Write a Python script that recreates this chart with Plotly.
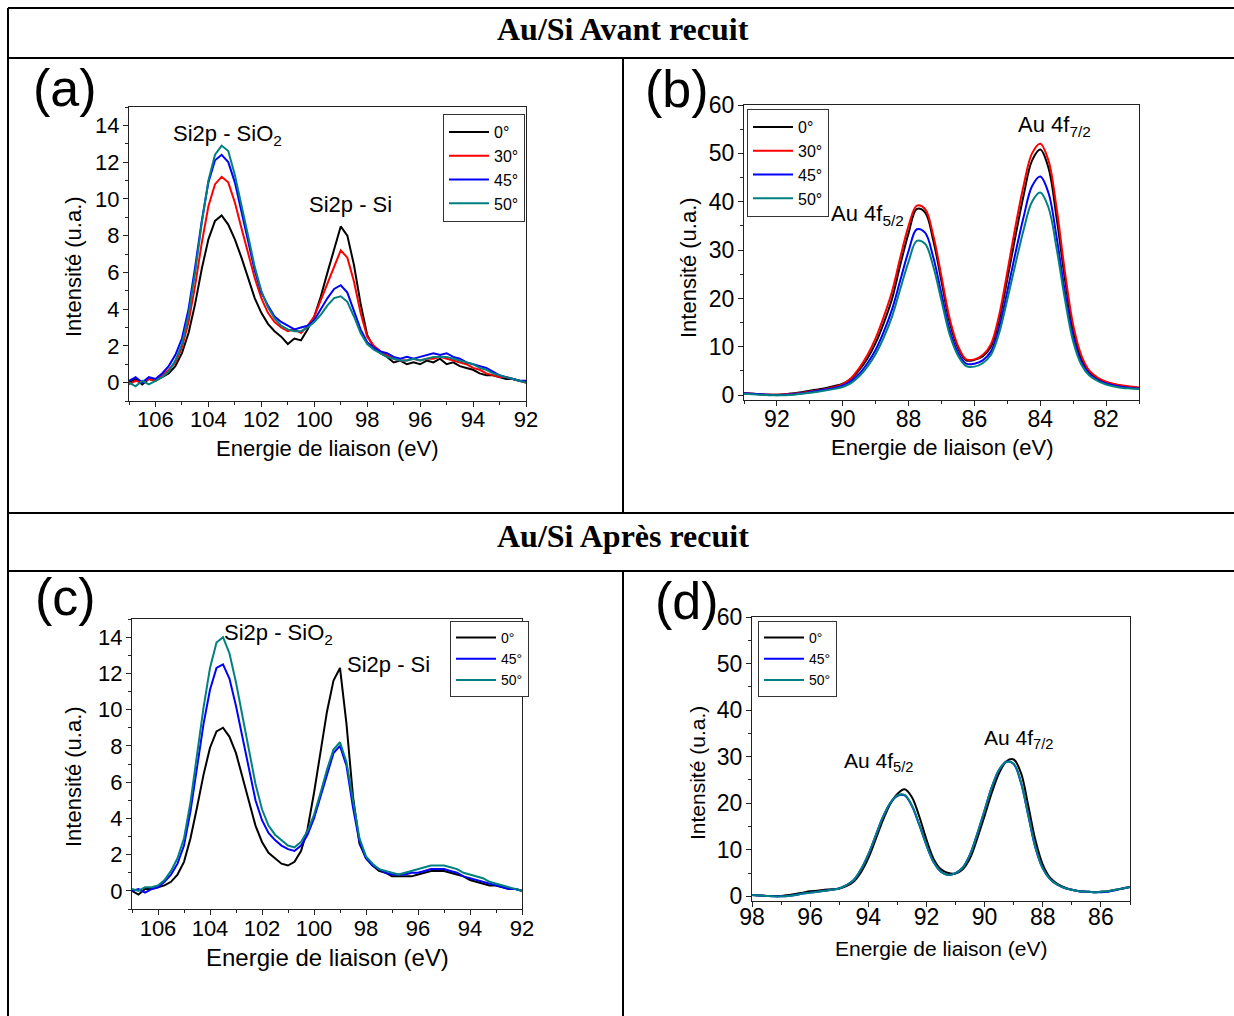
import plotly.graph_objects as go

W, H = 1234, 1016

def fx(p):
    return p / W

def fy(p):
    return 1 - p / H

# ---------------- DATA ----------------
COLORS = {"0°": "#000000", "30°": "#ff0000", "45°": "#0000ff", "50°": "#008080"}

# Si2p binding energies (eV)
E_SI = [107.0, 106.75, 106.5, 106.25, 106.0, 105.75, 105.5, 105.25, 105.0, 104.75,
        104.5, 104.25, 104.0, 103.75, 103.5, 103.25, 103.0, 102.75, 102.5, 102.25,
        102.0, 101.75, 101.5, 101.25, 101.0, 100.75, 100.5, 100.25, 100.0, 99.75,
        99.5, 99.25, 99.0, 98.75, 98.5, 98.25, 98.0, 97.75, 97.5, 97.25,
        97.0, 96.75, 96.5, 96.25, 96.0, 95.75, 95.5, 95.25, 95.0, 94.75,
        94.5, 94.25, 94.0, 93.75, 93.5, 93.25, 93.0, 92.75, 92.5, 92.25, 92.0]

# (a) Au/Si avant recuit - Si2p
A_0 = [0.0, 0.2, -0.1, 0.2, 0.1, 0.3, 0.5, 0.9, 1.6, 2.7,
       4.3, 6.2, 7.8, 8.8, 9.1, 8.6, 7.8, 6.8, 5.7, 4.6,
       3.8, 3.2, 2.8, 2.5, 2.1, 2.4, 2.3, 2.9, 3.6, 4.7,
       6.0, 7.3, 8.5, 8.0, 6.4, 4.3, 2.6, 1.9, 1.6, 1.4,
       1.1, 1.2, 1.0, 1.1, 1.0, 1.2, 1.1, 1.3, 1.0, 1.1,
       0.9, 0.8, 0.7, 0.5, 0.4, 0.4, 0.3, 0.2, 0.2, 0.1, 0.0]
A_30 = [-0.1, 0.1, 0.0, 0.2, 0.1, 0.4, 0.7, 1.1, 1.9, 3.3,
        5.3, 7.6, 9.6, 10.8, 11.2, 10.9, 9.8, 8.4, 7.0, 5.7,
        4.6, 3.8, 3.3, 3.0, 2.8, 2.9, 2.7, 3.1, 3.6, 4.5,
        5.5, 6.4, 7.2, 6.8, 5.5, 3.8, 2.5, 2.0, 1.7, 1.5,
        1.3, 1.2, 1.2, 1.3, 1.2, 1.3, 1.3, 1.4, 1.3, 1.2,
        1.1, 1.0, 0.8, 0.7, 0.5, 0.4, 0.3, 0.3, 0.2, 0.1, 0.0]
A_45 = [0.1, 0.3, 0.0, 0.3, 0.2, 0.5, 0.9, 1.5, 2.4, 4.0,
        6.3, 8.8, 10.9, 12.1, 12.4, 12.0, 10.9, 9.3, 7.6, 6.1,
        4.9, 4.2, 3.6, 3.3, 3.1, 2.9, 3.0, 3.1, 3.4, 4.0,
        4.6, 5.1, 5.3, 4.9, 3.9, 2.9, 2.2, 1.9, 1.7, 1.6,
        1.4, 1.3, 1.4, 1.3, 1.4, 1.5, 1.6, 1.5, 1.6, 1.4,
        1.3, 1.1, 1.0, 0.9, 0.8, 0.6, 0.4, 0.3, 0.2, 0.1, 0.1]
A_50 = [0.0, -0.2, 0.1, -0.1, 0.1, 0.3, 0.6, 1.2, 2.1, 3.7,
        6.0, 8.7, 11.0, 12.4, 12.9, 12.6, 11.3, 9.7, 8.0, 6.3,
        5.0, 4.1, 3.5, 3.1, 2.9, 2.8, 2.8, 3.0, 3.3, 3.7,
        4.2, 4.6, 4.7, 4.4, 3.6, 2.7, 2.1, 1.8, 1.6, 1.4,
        1.3, 1.2, 1.2, 1.3, 1.2, 1.3, 1.4, 1.4, 1.4, 1.3,
        1.2, 1.1, 1.0, 0.8, 0.7, 0.5, 0.4, 0.3, 0.2, 0.1, 0.0]

# (c) Au/Si apres recuit - Si2p
C_0 = [0.0, -0.2, 0.1, 0.1, 0.2, 0.3, 0.5, 0.9, 1.6, 2.9,
       4.6, 6.4, 7.9, 8.8, 9.0, 8.5, 7.6, 6.3, 4.9, 3.6,
       2.7, 2.1, 1.8, 1.5, 1.4, 1.6, 2.2, 3.4, 5.4, 7.7,
       9.9, 11.6, 12.3, 9.2, 5.2, 2.6, 1.8, 1.4, 1.1, 1.0,
       0.8, 0.8, 0.8, 0.8, 0.9, 1.0, 1.1, 1.1, 1.1, 1.0,
       0.9, 0.8, 0.6, 0.5, 0.4, 0.3, 0.3, 0.2, 0.1, 0.1, 0.0]
C_45 = [0.0, 0.1, -0.1, 0.1, 0.2, 0.5, 0.9, 1.5, 2.5, 4.4,
        6.8, 9.2, 11.1, 12.3, 12.5, 11.7, 10.2, 8.4, 6.6, 5.0,
        3.9, 3.2, 2.8, 2.5, 2.3, 2.2, 2.5, 3.1, 4.0, 5.2,
        6.5, 7.6, 8.0, 6.9, 4.6, 2.7, 1.8, 1.4, 1.2, 1.0,
        0.9, 0.9, 0.9, 1.0, 1.0, 1.1, 1.2, 1.2, 1.2, 1.1,
        1.0, 0.8, 0.7, 0.6, 0.5, 0.4, 0.3, 0.2, 0.1, 0.1, 0.0]
C_50 = [0.1, 0.0, 0.2, 0.2, 0.3, 0.6, 1.1, 1.8, 2.9, 4.9,
        7.5, 10.1, 12.3, 13.7, 14.0, 13.1, 11.5, 9.6, 7.6, 5.9,
        4.5, 3.6, 3.1, 2.8, 2.5, 2.4, 2.7, 3.3, 4.2, 5.4,
        6.7, 7.8, 8.2, 7.1, 4.9, 2.9, 1.9, 1.5, 1.2, 1.1,
        1.0, 0.9, 1.0, 1.1, 1.2, 1.3, 1.4, 1.4, 1.4, 1.3,
        1.2, 1.0, 0.9, 0.8, 0.7, 0.5, 0.4, 0.3, 0.2, 0.1, 0.0]

# (b) Au/Si avant recuit - Au 4f
E_AU_B = [93.0, 92.75, 92.5, 92.25, 92.0, 91.75, 91.5, 91.25, 91.0, 90.75,
          90.5, 90.25, 90.0, 89.75, 89.5, 89.25, 89.0, 88.75, 88.5, 88.25,
          88.0, 87.75, 87.5, 87.25, 87.0, 86.75, 86.5, 86.25, 86.0, 85.75,
          85.5, 85.25, 85.0, 84.75, 84.5, 84.25, 84.0, 83.75, 83.5, 83.25,
          83.0, 82.75, 82.5, 82.25, 82.0, 81.75, 81.5, 81.25, 81.0]
B_0 = [0.4, 0.3, 0.2, 0.1, 0.1, 0.2, 0.4, 0.6, 0.9, 1.2,
       1.5, 1.9, 2.4, 3.4, 5.2, 7.6, 10.8, 15.0, 20.0, 27.0,
       33.5, 38.5, 37.8, 32.0, 23.5, 15.0, 9.8, 7.2, 7.3, 8.0,
       10.0, 15.5, 24.0, 33.0, 41.5, 48.5, 50.8, 47.0, 36.5, 24.0,
       13.5, 7.5, 4.7, 3.4, 2.7, 2.2, 1.9, 1.7, 1.5]
B_30 = [0.4, 0.3, 0.2, 0.1, 0.1, 0.2, 0.3, 0.5, 0.7, 1.0,
        1.3, 1.7, 2.3, 3.5, 5.6, 8.3, 11.8, 16.3, 21.5, 28.5,
        35.0, 39.2, 38.5, 33.0, 24.5, 15.8, 10.2, 7.4, 7.4, 8.3,
        10.5, 16.5, 25.5, 35.0, 43.5, 50.0, 52.0, 48.5, 38.5, 25.5,
        14.5, 8.2, 5.0, 3.6, 2.8, 2.3, 2.0, 1.8, 1.6]
B_45 = [0.4, 0.3, 0.2, 0.1, 0.0, 0.1, 0.2, 0.4, 0.6, 0.9,
        1.2, 1.5, 2.0, 2.9, 4.4, 6.6, 9.4, 13.2, 17.8, 23.8,
        29.8, 34.3, 33.6, 28.5, 20.9, 13.4, 8.8, 6.5, 6.5, 7.2,
        9.0, 14.0, 21.5, 29.5, 37.0, 43.2, 45.2, 41.8, 32.5, 21.3,
        12.0, 6.8, 4.3, 3.1, 2.4, 2.0, 1.7, 1.5, 1.4]
B_50 = [0.3, 0.2, 0.1, 0.0, 0.0, 0.0, 0.1, 0.3, 0.5, 0.7,
        1.0, 1.3, 1.7, 2.5, 3.9, 5.9, 8.5, 12.0, 16.3, 22.0,
        27.6, 31.9, 31.3, 26.6, 19.5, 12.5, 8.2, 6.0, 5.9, 6.6,
        8.3, 12.8, 19.8, 27.2, 34.3, 40.0, 41.9, 38.8, 30.2, 19.8,
        11.1, 6.3, 4.0, 2.9, 2.2, 1.8, 1.5, 1.4, 1.3]

# (d) Au/Si apres recuit - Au 4f
E_AU_D = [98.0, 97.75, 97.5, 97.25, 97.0, 96.75, 96.5, 96.25, 96.0, 95.75,
          95.5, 95.25, 95.0, 94.75, 94.5, 94.25, 94.0, 93.75, 93.5, 93.25,
          93.0, 92.75, 92.5, 92.25, 92.0, 91.75, 91.5, 91.25, 91.0, 90.75,
          90.5, 90.25, 90.0, 89.75, 89.5, 89.25, 89.0, 88.75, 88.5, 88.25,
          88.0, 87.75, 87.5, 87.25, 87.0, 86.75, 86.5, 86.25, 86.0, 85.75,
          85.5, 85.25, 85.0]
D_0 = [0.3, 0.2, 0.1, 0.1, 0.1, 0.3, 0.5, 0.8, 1.1, 1.2,
       1.4, 1.5, 1.7, 2.2, 3.2, 5.2, 8.2, 12.2, 16.3, 19.8,
       22.0, 23.0, 21.3, 17.2, 12.2, 8.0, 5.8, 5.0, 4.9, 5.8,
       8.2, 12.5, 17.3, 22.3, 26.5, 29.0, 29.4, 26.5, 19.5, 12.0,
       6.8, 4.0, 2.7, 1.9, 1.4, 1.1, 1.0, 0.9, 1.0, 1.1,
       1.4, 1.7, 2.0]
D_45 = [0.3, 0.2, 0.1, 0.0, 0.0, 0.1, 0.3, 0.6, 0.8, 1.0,
        1.2, 1.4, 1.7, 2.4, 3.5, 5.8, 9.0, 13.0, 17.0, 20.0,
        21.6, 21.7, 19.4, 15.4, 11.0, 7.3, 5.3, 4.6, 5.0, 6.2,
        9.0, 13.5, 18.5, 23.5, 27.2, 28.9, 28.4, 24.4, 17.4, 10.4,
        6.0, 3.7, 2.5, 1.8, 1.4, 1.1, 1.0, 0.9, 0.9, 1.0,
        1.3, 1.7, 2.0]
D_50 = [0.3, 0.2, 0.1, 0.0, 0.0, 0.1, 0.3, 0.6, 0.8, 1.0,
        1.2, 1.4, 1.7, 2.4, 3.5, 5.8, 9.0, 13.0, 17.0, 20.0,
        21.7, 21.8, 19.5, 15.5, 11.0, 7.3, 5.3, 4.6, 5.0, 6.2,
        9.0, 13.5, 18.5, 23.5, 27.2, 28.9, 28.5, 24.5, 17.5, 10.5,
        6.0, 3.7, 2.5, 1.8, 1.4, 1.1, 1.0, 0.9, 1.0, 1.1,
        1.4, 1.7, 2.0]

PANELS = [
    ("a", E_SI, {"0°": A_0, "30°": A_30, "45°": A_45, "50°": A_50}, "x", "y", "legend", "linear"),
    ("b", E_AU_B, {"0°": B_0, "30°": B_30, "45°": B_45, "50°": B_50}, "x2", "y2", "legend2", "spline"),
    ("c", E_SI, {"0°": C_0, "45°": C_45, "50°": C_50}, "x3", "y3", "legend3", "linear"),
    ("d", E_AU_D, {"0°": D_0, "45°": D_45, "50°": D_50}, "x4", "y4", "legend4", "spline"),
]

SANS = "Liberation Sans, Arial, sans-serif"
SERIF = "Liberation Serif, Times New Roman, serif"

fig = go.Figure()
for key, xs, series, xa, ya, lg, shape in PANELS:
    for name, ys in series.items():
        fig.add_trace(go.Scatter(
            x=xs, y=ys, name=name, mode="lines", xaxis=xa, yaxis=ya, legend=lg,
            line=dict(color=COLORS[name], width=2, shape=shape),
            showlegend=True, hoverinfo="skip"))

# plot-area positions (pixels)
BOX = {
    "a": (129, 526, 107, 401),
    "b": (744, 1139, 105, 400),
    "c": (132, 522, 619, 909),
    "d": (752, 1130, 617, 901),
}
XR = {"a": [107, 92], "b": [93, 81], "c": [107, 92], "d": [98, 85]}
YR = {"a": [-1, 15], "b": [-1, 60], "c": [-1, 15], "d": [-1, 60]}
YD = {"a": 2, "b": 10, "c": 2, "d": 10}
TICKFS = {"a": 22, "b": 23, "c": 22, "d": 23}
XSTANDOFF = {"a": -6, "b": -7, "c": -5, "d": -10}

layout_axes = {}
for i, key in enumerate(["a", "b", "c", "d"]):
    x0, x1, y0, y1 = BOX[key]
    sfx = "" if i == 0 else str(i + 1)
    common = dict(showline=True, linecolor="#222", linewidth=1, mirror=True,
                  ticks="outside", ticklen=5, tickwidth=1, tickcolor="#222",
                  showgrid=False, zeroline=False, fixedrange=True, automargin=False,
                  tickfont=dict(family=SANS, size=TICKFS[key], color="black"))
    layout_axes["xaxis" + sfx] = dict(
        common, domain=[fx(x0), fx(x1)], range=XR[key], anchor="y" + sfx,
        ticklabelstandoff=XSTANDOFF[key],
        tick0=0, dtick=2, minor=dict(dtick=1, ticklen=3, ticks="outside", tickcolor="#222"))
    layout_axes["yaxis" + sfx] = dict(
        common, domain=[fy(y1), fy(y0)], range=YR[key], anchor="x" + sfx,
        ticklabelstandoff=-1,
        tick0=0, dtick=YD[key], minor=dict(dtick=YD[key] / 2, ticklen=3, ticks="outside", tickcolor="#222"))

fig.update_layout(**layout_axes)

def legend_at(px, py, size):
    return dict(x=fx(px), y=fy(py), xanchor="left", yanchor="top",
                bordercolor="#333", borderwidth=1, bgcolor="white",
                font=dict(family=SANS, size=size, color="black"),
                itemwidth=40, tracegroupgap=0)

fig.update_layout(
    width=W, height=H,
    margin=dict(l=0, r=0, t=0, b=0, pad=0, autoexpand=False),
    paper_bgcolor="white", plot_bgcolor="white",
    legend=legend_at(443, 114, 16),
    legend2=legend_at(747, 109, 16),
    legend3=legend_at(450, 621, 14),
    legend4=legend_at(758, 621, 14),
)

# table borders
LINES = [
    (8, 8, W, 8), (8, 58, W, 58), (8, 513, W, 513), (8, 571, W, 571),
    (8, 8, 8, H), (623, 58, 623, 513), (623, 571, 623, H),
]
for x0, y0, x1, y1 in LINES:
    fig.add_shape(type="line", xref="paper", yref="paper",
                  x0=fx(x0), y0=fy(y0), x1=fx(x1), y1=fy(y1),
                  line=dict(color="black", width=2))

def paper_text(text, px, py, size, family=SANS, angle=0):
    fig.add_annotation(text=text, xref="paper", yref="paper", x=fx(px), y=fy(py),
                       xanchor="center", yanchor="middle", showarrow=False, textangle=angle,
                       font=dict(family=family, size=size, color="black"))

# headers
paper_text("<b>Au/Si Avant recuit</b>", 623, 29, 32, SERIF)
paper_text("<b>Au/Si Après recuit</b>", 623, 536, 32, SERIF)

# panel letters
paper_text("(a)", 65, 88, 52)
paper_text("(b)", 677, 89, 52)
paper_text("(c)", 65, 597, 52)
paper_text("(d)", 687, 601, 52)

# axis titles
XT = {"a": (327, 448, 22), "b": (942, 447, 22), "c": (327, 957, 24), "d": (941, 948, 21)}
YT = {"a": (73, 267, 22), "b": (688, 268, 22), "c": (73, 777, 22), "d": (697, 773, 21)}
for key in ["a", "b", "c", "d"]:
    x, y, s = XT[key]
    paper_text("Energie de liaison (eV)", x, y, s)
    x, y, s = YT[key]
    paper_text("Intensité (u.a.)", x, y, s, angle=-90)

# peak labels (data coordinates)
PEAK_LABELS = [
    ("Si2p - SiO<sub>2</sub>", "x", "y", 105.4, 13.5, 22),
    ("Si2p - Si", "x", "y", 100.26, 9.7, 22),
    ("Au 4f<sub>7/2</sub>", "x2", "y2", 84.74, 55.7, 22),
    ("Au 4f<sub>5/2</sub>", "x2", "y2", 90.42, 37.2, 22),
    ("Si2p - SiO<sub>2</sub>", "x3", "y3", 103.53, 14.2, 22),
    ("Si2p - Si", "x3", "y3", 98.82, 12.5, 22),
    ("Au 4f<sub>5/2</sub>", "x4", "y4", 94.91, 28.8, 21),
    ("Au 4f<sub>7/2</sub>", "x4", "y4", 90.1, 33.8, 21),
]
for text, xa, ya, x, y, s in PEAK_LABELS:
    fig.add_annotation(text=text, xref=xa, yref=ya, x=x, y=y, xanchor="left",
                       yanchor="middle", showarrow=False,
                       font=dict(family=SANS, size=s, color="black"))

fig.write_html("out.html",
               config={"displayModeBar": False},
               post_script="document.body.style.margin='0px';"
                           "document.documentElement.style.overflow='hidden';"
                           "document.body.style.overflow='hidden';")
